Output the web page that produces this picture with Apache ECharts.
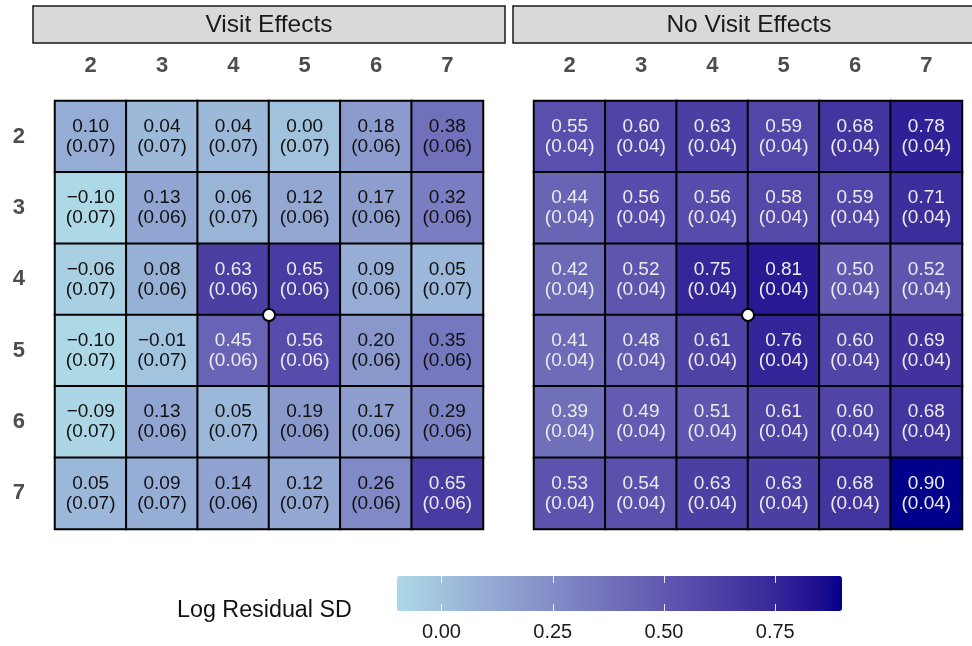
<!DOCTYPE html>
<html>
<head>
<meta charset="utf-8">
<script src="https://cdn.jsdelivr.net/npm/echarts@6/dist/echarts.min.js"></script>
<style>html,body{margin:0;padding:0;background:#fff}#c{width:972px;height:646px}</style>
</head>
<body>
<div id="c"></div>
<script>
const cols = ['2', '3', '4', '5', '6', '7'];
const rows = ['2', '3', '4', '5', '6', '7'];
const panelTitles = ['Visit Effects', 'No Visit Effects'];

const visitVals = [
  [0.10, 0.04, 0.04, 0.00, 0.18, 0.38],
  [-0.10, 0.13, 0.06, 0.12, 0.17, 0.32],
  [-0.06, 0.08, 0.63, 0.65, 0.09, 0.05],
  [-0.10, -0.01, 0.45, 0.56, 0.20, 0.35],
  [-0.09, 0.13, 0.05, 0.19, 0.17, 0.29],
  [0.05, 0.09, 0.14, 0.12, 0.26, 0.65]
];
const visitSE = [
  [0.07, 0.07, 0.07, 0.07, 0.06, 0.06],
  [0.07, 0.06, 0.07, 0.06, 0.06, 0.06],
  [0.07, 0.06, 0.06, 0.06, 0.06, 0.07],
  [0.07, 0.07, 0.06, 0.06, 0.06, 0.06],
  [0.07, 0.06, 0.07, 0.06, 0.06, 0.06],
  [0.07, 0.07, 0.06, 0.07, 0.06, 0.06]
];
const noVisitVals = [
  [0.55, 0.60, 0.63, 0.59, 0.68, 0.78],
  [0.44, 0.56, 0.56, 0.58, 0.59, 0.71],
  [0.42, 0.52, 0.75, 0.81, 0.50, 0.52],
  [0.41, 0.48, 0.61, 0.76, 0.60, 0.69],
  [0.39, 0.49, 0.51, 0.61, 0.60, 0.68],
  [0.53, 0.54, 0.63, 0.63, 0.68, 0.90]
];
const noVisitSE = [
  [0.04, 0.04, 0.04, 0.04, 0.04, 0.04],
  [0.04, 0.04, 0.04, 0.04, 0.04, 0.04],
  [0.04, 0.04, 0.04, 0.04, 0.04, 0.04],
  [0.04, 0.04, 0.04, 0.04, 0.04, 0.04],
  [0.04, 0.04, 0.04, 0.04, 0.04, 0.04],
  [0.04, 0.04, 0.04, 0.04, 0.04, 0.04]
];
// reference points, in column/row units (between cells 4 and 5)
const markerVisit = [[4.5, 4.5]];
const markerNoVisit = [[4.5, 4.5]];

const legendTitle = 'Log Residual SD';
const legendTicks = [0, 0.25, 0.5, 0.75];
const scaleMin = -0.10, scaleMax = 0.90;

// ---- CIELAB gradient lightblue -> darkblue (like ggplot) ----
function s2l(c){c/=255;return c<=0.04045?c/12.92:Math.pow((c+0.055)/1.055,2.4);}
function l2s(c){c=c<=0.0031308?12.92*c:1.055*Math.pow(c,1/2.4)-0.055;return Math.round(Math.max(0,Math.min(1,c))*255);}
function hexToLab(h){
  const r=s2l(parseInt(h.substr(1,2),16)),g=s2l(parseInt(h.substr(3,2),16)),b=s2l(parseInt(h.substr(5,2),16));
  const X=(0.4124*r+0.3576*g+0.1805*b)/0.95047,Y=0.2126*r+0.7152*g+0.0722*b,Z=(0.0193*r+0.1192*g+0.9505*b)/1.08883;
  const f=t=>t>216/24389?Math.cbrt(t):(t*24389/27+16)/116;
  const fx=f(X),fy=f(Y),fz=f(Z);
  return [116*fy-16,500*(fx-fy),200*(fy-fz)];
}
function labToHex(L,a,b){
  const fy=(L+16)/116,fx=fy+a/500,fz=fy-b/200;
  const fi=t=>t>6/29?t*t*t:3*(6/29)*(6/29)*(t-4/29);
  const X=0.95047*fi(fx),Y=fi(fy),Z=1.08883*fi(fz);
  const r=3.2406*X-1.5372*Y-0.4986*Z,g=-0.9689*X+1.8758*Y+0.0415*Z,bb=0.0557*X-0.2040*Y+1.0570*Z;
  return 'rgb('+l2s(r)+','+l2s(g)+','+l2s(bb)+')';
}
const lo=hexToLab('#ADD8E6'),hi=hexToLab('#00008B');
const ramp=[];
for(let i=0;i<=24;i++){const t=i/24;ramp.push(labToHex(lo[0]+(hi[0]-lo[0])*t,lo[1]+(hi[1]-lo[1])*t,lo[2]+(hi[2]-lo[2])*t));}

const FONT='"Liberation Sans", Arial, Helvetica, sans-serif';
function fmt(v){const s=Math.abs(v).toFixed(2);return (v<0?'\u2212':'')+s;}
function build(vals,ses){
  const out=[];
  vals.forEach((row,ri)=>row.forEach((v,ci)=>{
    out.push({value:[ci,ri,v,ses[ri][ci]],label:{color:v>0.385?'#ebebeb':'#111'}});
  }));
  return out;
}

const GT=101, GS=428;
const gridL=[55,534];

const grids=[], xAxes=[], yAxes=[], series=[];
gridL.forEach((L,p)=>{
  grids.push({left:L,top:GT,width:GS,height:GS});
});
gridL.forEach((L,p)=>{
  grids.push({left:L,top:GT,width:GS,height:GS});
});
grids.push({left:397,top:576,width:445,height:35});

for(let p=0;p<2;p++){
  xAxes.push({type:'category',gridIndex:p,data:cols,position:'top',
    axisLine:{show:false},axisTick:{show:false},splitLine:{show:false},
    axisLabel:{fontFamily:FONT,fontSize:22,fontWeight:'bold',color:'#4d4d4d',margin:24}});
  yAxes.push({type:'category',gridIndex:p,data:rows,inverse:true,
    axisLine:{show:false},axisTick:{show:false},splitLine:{show:false},
    axisLabel:{show:p===0,fontFamily:FONT,fontSize:22,fontWeight:'bold',color:'#4d4d4d',margin:30}});
}
for(let p=0;p<2;p++){
  xAxes.push({type:'value',gridIndex:2+p,min:1.5,max:7.5,show:false});
  yAxes.push({type:'value',gridIndex:2+p,min:1.5,max:7.5,inverse:true,show:false});
}
// colorbar axes
xAxes.push({type:'value',gridIndex:4,min:scaleMin,max:scaleMax,position:'bottom',z:10,
  axisLine:{show:false},splitLine:{show:false},
  axisTick:{show:true,inside:true,length:7,customValues:legendTicks,lineStyle:{color:'rgba(255,255,255,0.85)',width:1}},
  axisLabel:{customValues:legendTicks,formatter:v=>v.toFixed(2),fontFamily:FONT,fontSize:20,color:'#1a1a1a',margin:11}});
xAxes.push({type:'value',gridIndex:4,min:scaleMin,max:scaleMax,position:'top',z:10,
  axisLine:{show:false},splitLine:{show:false},axisLabel:{show:false},
  axisTick:{show:true,inside:true,length:7,customValues:legendTicks,lineStyle:{color:'rgba(255,255,255,0.85)',width:1}}});
yAxes.push({type:'value',gridIndex:4,min:0,max:1,show:false});

const panels=[[visitVals,visitSE],[noVisitVals,noVisitSE]];
panels.forEach((pp,p)=>{
  series.push({type:'heatmap',xAxisIndex:p,yAxisIndex:p,data:build(pp[0],pp[1]),
    itemStyle:{borderColor:'#000',borderWidth:2},
    emphasis:{disabled:true},
    label:{show:true,fontFamily:FONT,fontSize:19,lineHeight:20,
      formatter:q=>fmt(q.value[2])+'\n('+q.value[3].toFixed(2)+')'}});
});
[markerVisit,markerNoVisit].forEach((m,p)=>{
  series.push({type:'scatter',xAxisIndex:2+p,yAxisIndex:2+p,data:m,z:20,symbol:'circle',symbolSize:12,
    itemStyle:{color:'#ffffff',borderColor:'#000000',borderWidth:2,opacity:1},emphasis:{disabled:true},silent:true});
});

const graphics=[];
const stripX=[33,513];
stripX.forEach((x,p)=>{
  graphics.push({type:'rect',shape:{x:x,y:6,width:472,height:37},style:{fill:'#d9d9d9',stroke:'#1a1a1a',lineWidth:1.5},z:1});
  graphics.push({type:'text',x:x+236,y:25,z:2,style:{text:panelTitles[p],fontFamily:FONT,fontSize:24.5,fill:'#1a1a1a',align:'center',verticalAlign:'middle'}});
});
graphics.push({type:'text',x:177,y:611,style:{text:legendTitle,fontFamily:FONT,fontSize:23.3,fill:'#111',align:'left',verticalAlign:'middle'}});

const chart=echarts.init(document.getElementById('c'),null,{renderer:'canvas'});
chart.setOption({
  animation:false,
  backgroundColor:'#fff',
  grid:grids,xAxis:xAxes,yAxis:yAxes,series:series,
  visualMap:{type:'continuous',min:scaleMin,max:scaleMax,dimension:2,seriesIndex:[0,1],orient:'horizontal',
    left:397,top:576,itemWidth:35,itemHeight:445,padding:0,calculable:false,text:['',''],showLabel:false,
    inRange:{color:ramp},z:2},
  graphic:graphics
});
</script>
</body>
</html>
